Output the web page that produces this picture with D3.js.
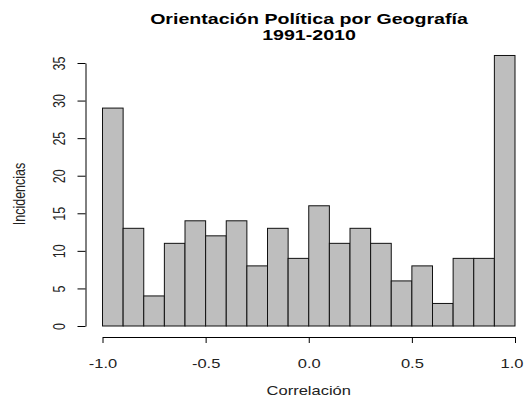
<!DOCTYPE html>
<html><head><meta charset="utf-8">
<script src="https://cdnjs.cloudflare.com/ajax/libs/d3/7.8.5/d3.min.js"></script>
<style>body{margin:0;background:#fff}svg{display:block}text{font-family:"Liberation Sans",Arial,sans-serif}</style>
</head><body><svg id="c" width="525" height="400"></svg>
<script>
const binStarts = [-1.0,-0.9,-0.8,-0.7,-0.6,-0.5,-0.4,-0.3,-0.2,-0.1,0.0,0.1,0.2,0.3,0.4,0.5,0.6,0.7,0.8,0.9];
const counts = [29,13,4,11,14,12,14,8,13,9,16,11,13,11,6,8,3,9,9,36];
const xTicks = [-1.0,-0.5,0.0,0.5,1.0];
const yTicks = [0,5,10,15,20,25,30,35];
const binWidth = 0.1;
const titleLines = ["Orientación Política por Geografía","1991-2010"];
const xLabel = "Correlación";
const yLabel = "Incidencias";

const SX = 1.32; // horizontal stretch of the reference text
const svg = d3.select("#c");
const x = d3.scaleLinear().domain([-1,1]).range([102.5,515]);
const y = d3.scaleLinear().domain([0,35]).range([326,63]);

svg.append("g").selectAll("rect").data(counts).join("rect")
  .attr("x",(d,i)=>x(binStarts[i]))
  .attr("y",d=>y(d))
  .attr("width",(d,i)=>x(binStarts[i]+binWidth)-x(binStarts[i]))
  .attr("height",d=>y(0)-y(d))
  .attr("fill","#bebebe").attr("stroke","#111").attr("stroke-width",1);

const xa = svg.append("g").attr("transform","translate(0,337)")
  .call(d3.axisBottom(x).tickValues(xTicks).tickFormat(d=>d.toFixed(1)).tickSize(6).tickSizeOuter(0));
xa.select(".domain").attr("stroke","#000");
xa.selectAll(".tick text").attr("font-size",12.5).attr("fill","#222")
  .attr("font-family","Liberation Sans, Arial, sans-serif")
  .attr("x",d=>d===1 ? -3.5/SX : 0)
  .attr("y",31).attr("dy",null).attr("transform",`scale(${SX},1)`);

const ya = svg.append("g").attr("transform","translate(85.5,0)")
  .call(d3.axisLeft(y).tickValues(yTicks).tickSize(8).tickSizeOuter(0));
ya.select(".domain").attr("stroke","#000");
ya.selectAll(".tick text").attr("font-size",12.5).attr("fill","#222")
  .attr("font-family","Liberation Sans, Arial, sans-serif")
  .attr("text-anchor","middle").attr("x",0).attr("y",-21/SX).attr("dy",null)
  .attr("transform",`scale(${SX},1) rotate(-90)`);

svg.append("text").attr("transform",`translate(308.75,395) scale(${SX},1)`).attr("text-anchor","middle")
  .attr("font-size",12.5).attr("fill","#222").text(xLabel);
svg.append("text").attr("transform",`translate(24.5,194) scale(${SX},1) rotate(-90)`).attr("text-anchor","middle")
  .attr("font-size",12.5).attr("fill","#222").text(yLabel);

svg.append("g").selectAll("text").data(titleLines).join("text")
  .attr("transform",(d,i)=>`translate(309,${24+i*16}) scale(1.4,1)`).attr("text-anchor","middle")
  .attr("font-size",14).attr("font-weight","bold").attr("fill","#000").text(d=>d);
</script></body></html>
